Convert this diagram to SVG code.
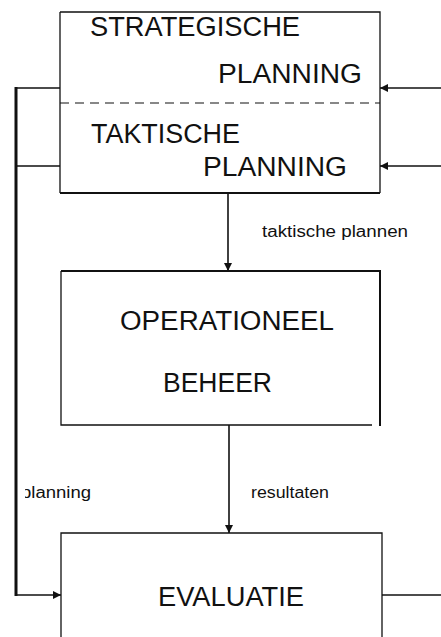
<svg xmlns="http://www.w3.org/2000/svg" width="441" height="637" viewBox="0 0 441 637">
<style>
.box{fill:none;stroke:#111;stroke-width:1.3}
.big{font-family:"Liberation Sans",Arial,sans-serif;font-size:27px;fill:#111;font-weight:normal}
.lbl{font-family:"Liberation Sans",Arial,sans-serif;font-size:16px;fill:#111}
.ln{fill:none;stroke:#111;stroke-width:1.6}
</style>
<defs>
<marker id="ah" viewBox="0 0 10 10" refX="10" refY="5" markerWidth="8" markerHeight="8" markerUnits="userSpaceOnUse" orient="auto">
<path d="M0,0 L10,5 L0,10 Z" fill="#111"/>
</marker>
<clipPath id="cp"><rect x="25" y="470" width="120" height="40"/></clipPath>
</defs>
<rect width="441" height="637" fill="#fff"/>
<g id="planning-box">
<path class="box" d="M60,12 H380 V193 M60,12 V193"/>
<path d="M60,193 H380" stroke="#111" stroke-width="1.8"/>
<path d="M60,103 H380" stroke="#111" stroke-width="1.2" stroke-dasharray="9,6"/>
<text class="big" x="90" y="36" textLength="210" lengthAdjust="spacingAndGlyphs">STRATEGISCHE</text>
<text class="big" x="218" y="83" textLength="144" lengthAdjust="spacingAndGlyphs">PLANNING</text>
<text class="big" x="91" y="143" textLength="149" lengthAdjust="spacingAndGlyphs">TAKTISCHE</text>
<text class="big" x="203" y="176" textLength="144" lengthAdjust="spacingAndGlyphs">PLANNING</text>
</g>
<g id="operationeel">
<path class="box" d="M61,271 V425 H372"/>
<path d="M61,271 H380 V426" fill="none" stroke="#111" stroke-width="2"/>
<text class="big" x="120" y="330" textLength="214" lengthAdjust="spacingAndGlyphs">OPERATIONEEL</text>
<text class="big" x="163" y="392" textLength="109" lengthAdjust="spacingAndGlyphs">BEHEER</text>
</g>
<g id="evaluatie">
<path class="box" d="M61,637 V533 H382 V637"/>
<text class="big" x="158" y="606" textLength="146" lengthAdjust="spacingAndGlyphs">EVALUATIE</text>
</g>
<g id="connectors">
<path class="ln" d="M441,88 H380" marker-end="url(#ah)"/>
<path class="ln" d="M441,166 H380" marker-end="url(#ah)"/>
<path class="ln" d="M60,88 H16 M60,166 H16"/>
<path d="M16,87 V596" stroke="#111" stroke-width="3" fill="none"/>
<path class="ln" d="M16,595 H61" marker-end="url(#ah)"/>
<path class="ln" d="M228,193 V271" stroke-width="2" marker-end="url(#ah)"/>
<path class="ln" d="M229,425 V533" stroke-width="2" marker-end="url(#ah)"/>
<path class="ln" d="M382,595 H441"/>
<text class="lbl" x="262" y="237" textLength="146" lengthAdjust="spacingAndGlyphs">taktische plannen</text>
<text class="lbl" x="251" y="498" textLength="78" lengthAdjust="spacingAndGlyphs">resultaten</text>
<text class="lbl" x="21" y="498" textLength="70" lengthAdjust="spacingAndGlyphs" clip-path="url(#cp)">planning</text>
</g>
</svg>
